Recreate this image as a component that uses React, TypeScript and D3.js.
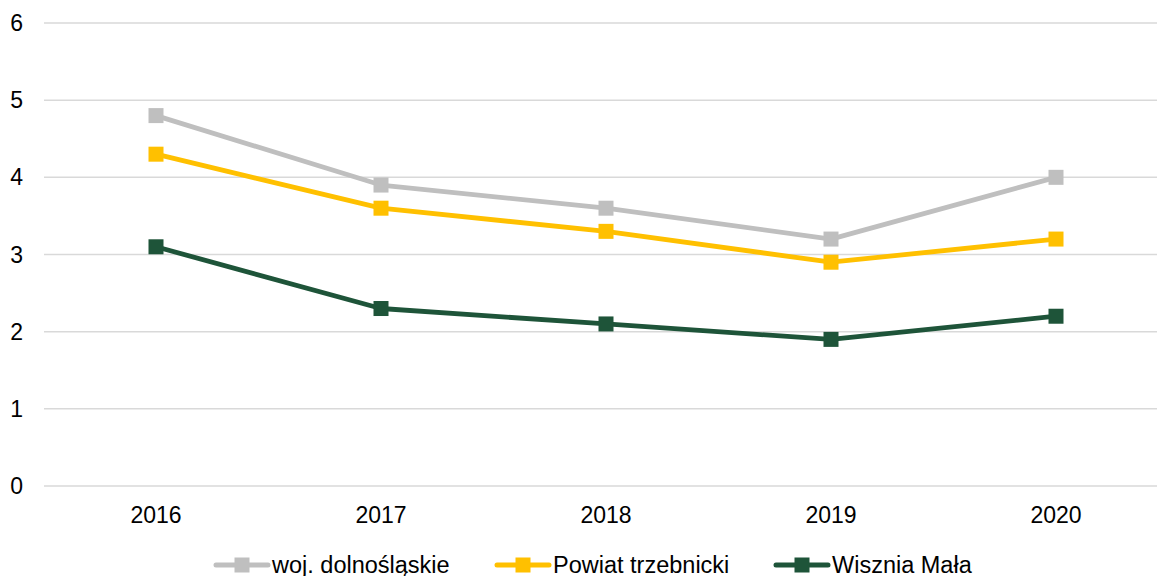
import { useMemo } from "react";
import * as d3 from "d3";

const YEARS = ["2016", "2017", "2018", "2019", "2020"];
const WOJ = [4.8, 3.9, 3.6, 3.2, 4.0];
const POWIAT = [4.3, 3.6, 3.3, 2.9, 3.2];
const WISZNIA = [3.1, 2.3, 2.1, 1.9, 2.2];
const Y_TICKS = [0, 1, 2, 3, 4, 5, 6];

const SERIES = [
  { name: "woj. dolnośląskie", values: WOJ, color: "#BFBFBF" },
  { name: "Powiat trzebnicki", values: POWIAT, color: "#FFC000" },
  { name: "Wisznia Mała", values: WISZNIA, color: "#1E5439" },
];

const W = 1157;
const H = 576;
const FONT = "'Liberation Sans', Arial, sans-serif";
const LEGEND_X = [214, 495, 774];

export default function App() {
  const x = useMemo(
    () => d3.scaleBand<string>().domain(YEARS).range([43.5, 1168.5]),
    []
  );
  const y = useMemo(() => d3.scaleLinear().domain([0, 6]).range([486, 23]), []);
  const cx = (c: string) => (x(c) ?? 0) + x.bandwidth() / 2;

  const line = d3
    .line<number>()
    .x((_, i) => cx(YEARS[i]))
    .y((d) => y(d));

  return (
    <svg
      width={W}
      height={H}
      style={{ position: "absolute", left: 0, top: 0, background: "#fff" }}
      fontFamily={FONT}
    >
      {Y_TICKS.map((t) => (
        <g key={t}>
          <line x1={44} x2={1168} y1={y(t)} y2={y(t)} stroke="#D9D9D9" strokeWidth={1.5} />
          <text x={23} y={y(t)} dy="0.35em" textAnchor="end" fontSize={23} fill="#000">
            {t}
          </text>
        </g>
      ))}

      {YEARS.map((c) => (
        <text key={c} x={cx(c)} y={523} textAnchor="middle" fontSize={23} fill="#000">
          {c}
        </text>
      ))}

      {SERIES.map((s) => (
        <g key={s.name}>
          <path
            d={line(s.values) ?? ""}
            fill="none"
            stroke={s.color}
            strokeWidth={4.8}
            strokeLinejoin="round"
            strokeLinecap="round"
          />
          {s.values.map((v, i) => (
            <rect
              key={i}
              x={cx(YEARS[i]) - 7.5}
              y={y(v) - 7.5}
              width={15}
              height={15}
              fill={s.color}
            />
          ))}
        </g>
      ))}

      {SERIES.map((s, i) => {
        const lx = LEGEND_X[i];
        return (
          <g key={s.name} transform={`translate(${lx},565)`}>
            <line x1={2} x2={54} y1={0} y2={0} stroke={s.color} strokeWidth={5} strokeLinecap="round" />
            <rect x={20.5} y={-7.5} width={15} height={15} fill={s.color} />
            <text x={58} y={7.5} fontSize={23.5} fill="#000">
              {s.name}
            </text>
          </g>
        );
      })}
    </svg>
  );
}
